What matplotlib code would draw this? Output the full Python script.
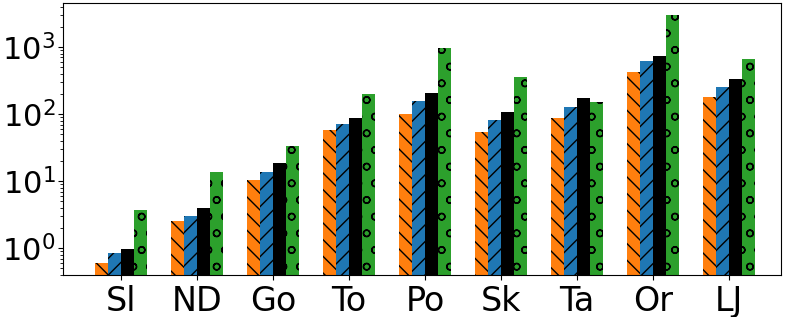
import matplotlib
matplotlib.use("Agg")
import numpy as np
import matplotlib.pyplot as plt

categories = ["Sl", "ND", "Go", "To", "Po", "Sk", "Ta", "Or", "LJ"]
s_orange = [0.60, 2.53, 10.3, 57.8, 100, 54, 87, 424, 179]
s_blue = [0.84, 3.0, 13.6, 70.8, 156, 81, 127, 620, 253]
s_black = [0.97, 3.95, 18.6, 87, 206, 107, 173, 733, 333]
s_green = [3.7, 13.6, 33.3, 199, 967, 357, 150, 3005, 662]

plt.rcParams["hatch.color"] = "black"
plt.rcParams["hatch.linewidth"] = 1.0

fig = plt.figure(figsize=(7.93, 3.17), dpi=100)
ax = fig.add_axes([63 / 793, 42 / 317, 718 / 793, 272 / 317])

x = np.arange(len(categories))
w = 0.17
series = [(s_orange, "#ff7f0e", "\\\\"), (s_blue, "#1f77b4", "//"),
          (s_black, "black", None), (s_green, "#2ca02c", "o")]
for k, (vals, col, hatch) in enumerate(series):
    ax.bar(x + (k - 1.5) * w, vals, w, color=col, hatch=hatch,
           edgecolor="black", linewidth=0)

ax.set_yscale("log")
ax.set_ylim(0.4, 4540)
ax.set_xlim(-0.76, 8.68)
ax.set_xticks(x)
ax.set_xticklabels(categories)
ax.tick_params(axis="x", labelsize=24)
ax.tick_params(axis="y", labelsize=22, pad=2)
fig.savefig("out.png", dpi=100)
